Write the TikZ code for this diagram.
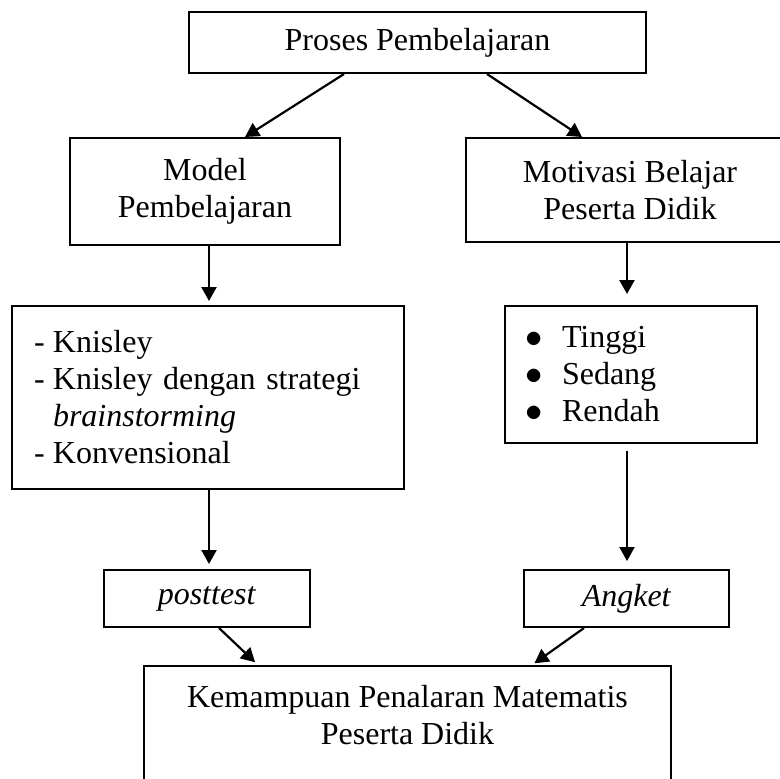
\documentclass[tikz,border=0pt]{standalone}
\usepackage{fontspec}
\setmainfont{Liberation Serif}
\usetikzlibrary{arrows.meta}

\begin{document}
\begin{tikzpicture}[x=0.5pt, y=-0.5pt,
    box/.style={draw, line width=1pt, inner sep=0pt, align=center, font=\fontsize{16}{18.5}\selectfont},
    arr/.style={-{Triangle[length=7pt, width=7.5pt]}, line width=1.1pt}]
    \useasboundingbox (0,0) rectangle (780,778);
    \clip (0,0) rectangle (780,778);
    \node[box, minimum width=228.5pt, minimum height=30.5pt] (proses) at (417.5,42.5) {Proses Pembelajaran};
    \node[box, minimum width=135pt, minimum height=53.5pt] (model) at (205,191.5) {Model\\Pembelajaran};
    \node[box, minimum width=164pt, minimum height=52pt] (motivasi) at (630,190) {Motivasi Belajar\\Peserta Didik};
    \node[box, align=left, text width=174pt, inner xsep=11pt, minimum height=91.5pt] (metode) at (208,397.5)
        {\makebox[9.5pt][l]{-}Knisley\\
         \makebox[9.5pt][l]{-}\makebox[164pt][s]{Knisley dengan strategi}\\
         \hspace*{9.5pt}\textit{brainstorming}\\
         \makebox[9.5pt][l]{-}Konvensional};
    \node[box, align=left, text width=106pt, inner xsep=10pt, minimum height=68.5pt] (tingkat) at (631,374.5)
        {\makebox[18.5pt][l]{$\bullet$}Tinggi\\
         \makebox[18.5pt][l]{$\bullet$}Sedang\\
         \makebox[18.5pt][l]{$\bullet$}Rendah};
    \node[box, minimum width=103pt, minimum height=28.5pt] (posttest) at (207,598.5) {\textit{posttest}};
    \node[box, minimum width=102.5pt, minimum height=28.5pt] (angket) at (626.5,598.5) {\textit{Angket}};
    \node[box, minimum width=263.5pt, minimum height=82pt] (hasil) at (407.5,748) {};
    \node[box, draw=none, anchor=north] (hasilteks) at ([yshift=-9.5pt]hasil.north)
        {Kemampuan Penalaran Matematis\\Peserta Didik};

    \draw[arr] ([xshift=-36.75pt]proses.south) -- ([xshift=20pt]model.north);
    \draw[arr] ([xshift=34.75pt]proses.south) -- ([xshift=-24pt]motivasi.north);
    \draw[arr, shorten >=2pt] ([xshift=2pt]model.south) -- ([xshift=2pt]model.south |- metode.north);
    \draw[arr, shorten >=5.5pt] ([xshift=-1.5pt]motivasi.south) -- ([xshift=-1.5pt]motivasi.south |- tingkat.north);
    \draw[arr, shorten >=2.5pt] ([xshift=0.5pt]metode.south) -- ([xshift=0.5pt]metode.south |- posttest.north);
    \draw[arr, shorten <=3.5pt, shorten >=4pt] ([xshift=-2pt]tingkat.south) -- ([xshift=-2pt]tingkat.south |- angket.north);
    \draw[arr, shorten >=2pt] ([xshift=6pt]posttest.south) -- ([xshift=-74.75pt]hasil.north);
    \draw[arr, shorten >=1.5pt] ([xshift=-21.25pt]angket.south) -- ([xshift=62.25pt]hasil.north);
\end{tikzpicture}
\end{document}
